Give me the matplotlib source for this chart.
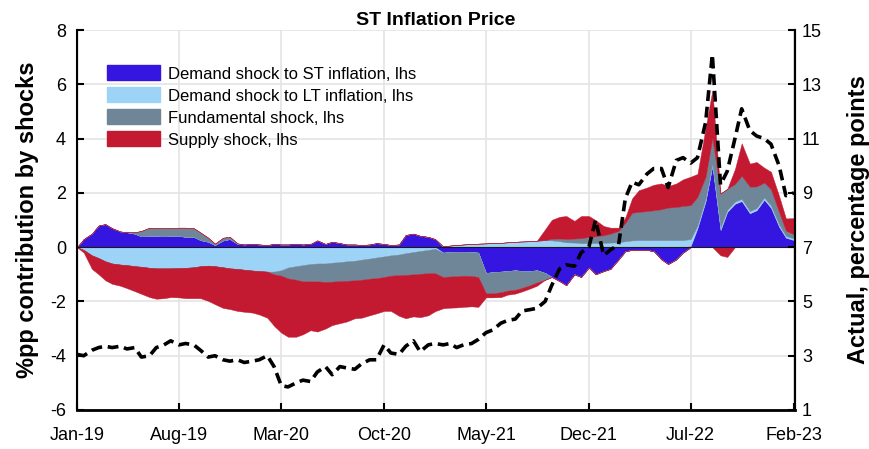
import numpy as np
import pandas as pd
import matplotlib
matplotlib.use("Agg")
import matplotlib.pyplot as plt
import matplotlib.dates as mdates
from matplotlib.patches import Patch

plt.rcParams["font.family"] = ["Liberation Sans", "DejaVu Sans"]
plt.rcParams["axes.unicode_minus"] = False

# semi-monthly observations, 1st and 15th of each month
DATES = pd.date_range("2019-01-01", "2023-02-01", freq="SMS")

# shock contributions, percentage points (lhs)
DEMAND_ST = [
    0, 0.3, 0.5, 0.8, 0.85, 0.7, 0.58, 0.55, 0.5, 0.4,
    0.42, 0.42, 0.4, 0.42, 0.42, 0.38, 0.38, 0.26, 0.2, 0.08,
    0.25, 0.3, 0.12, 0.1, 0.12, 0.1, 0.08, 0.12, 0.1, 0.1,
    0.12, 0.1, 0.12, 0.25, 0.12, 0.2, 0.15, 0.1, 0.1, 0.08,
    0.1, 0.15, 0.12, 0.08, 0.1, 0.45, 0.5, 0.42, 0.38, 0.3,
    -0.2, -0.18, -0.17, -0.17, -0.18, -0.2, -0.95, -0.92, -0.9, -0.88,
    -0.85, -0.88, -0.88, -0.85, -0.95, -1.1, -1.25, -1.4, -1.0, -1.1,
    -0.75, -1.0, -0.88, -0.8, -0.45, -0.15, -0.1, -0.1, -0.1, -0.15,
    -0.45, -0.62, -0.45, -0.2, 0.05, 0.7, 1.7, 3.0, 0.63, 1.3,
    1.6, 1.7, 1.25, 1.36, 1.75, 1.45, 0.75, 0.35, 0.26,
]
DEMAND_LT = [
    0, -0.1, -0.3, -0.4, -0.52, -0.6, -0.64, -0.66, -0.7, -0.72,
    -0.76, -0.78, -0.78, -0.78, -0.77, -0.76, -0.74, -0.7, -0.68, -0.7,
    -0.74, -0.78, -0.8, -0.83, -0.86, -0.88, -0.9, -0.9, -0.85, -0.75,
    -0.7, -0.66, -0.62, -0.6, -0.6, -0.57, -0.55, -0.52, -0.5, -0.46,
    -0.42, -0.38, -0.34, -0.3, -0.27, -0.22, -0.18, -0.14, -0.1, -0.06,
    0.03, 0.06, 0.08, 0.1, 0.12, 0.13, 0.14, 0.15, 0.16, 0.18,
    0.2, 0.21, 0.22, 0.24, 0.26, 0.25, 0.22, 0.18, 0.17, 0.15,
    0.15, 0.15, 0.16, 0.17, 0.18, 0.22, 0.25, 0.26, 0.26, 0.26,
    0.26, 0.26, 0.26, 0.26, 0.25, 0.1, 0.1, 0.08, 0.1, 0.08,
    0.08, 0.08, 0.08, 0.08, 0.08, 0.08, 0.08, 0.06, 0.06,
]
FUNDAMENTAL = [
    0, 0, 0, 0, 0, 0, 0, 0, 0.05, 0.2,
    0.3, 0.28, 0.3, 0.28, 0.3, 0.34, 0.32, 0.28, 0.15, 0.05,
    0.1, 0.08, 0.02, 0, 0, 0, 0, -0.1, -0.2, -0.4,
    -0.5, -0.6, -0.64, -0.66, -0.68, -0.7, -0.7, -0.72, -0.72, -0.74,
    -0.74, -0.76, -0.76, -0.75, -0.76, -0.8, -0.82, -0.84, -0.86, -0.9,
    -0.9, -0.9, -0.9, -0.88, -0.88, -0.9, -0.75, -0.78, -0.76, -0.72,
    -0.72, -0.62, -0.52, -0.45, -0.25, 0.06, 0.1, 0.12, 0.15, 0.18,
    0.23, 0.25, 0.28, 0.33, 0.42, 0.68, 1.02, 1.04, 1.07, 1.1,
    1.14, 1.2, 1.22, 1.26, 1.25, 1.05, 0.8, 0.95, 1.25, 0.77,
    0.65, 0.85, 0.9, 0.8, 0.55, 0.6, 0.45, 0.2, 0.15,
]
SUPPLY = [
    0, -0.1, -0.5, -0.6, -0.7, -0.75, -0.78, -0.85, -0.92, -1.0,
    -1.08, -1.12, -1.1, -1.06, -1.08, -1.12, -1.14, -1.18, -1.3, -1.4,
    -1.5, -1.5, -1.55, -1.55, -1.55, -1.6, -1.7, -1.9, -2.1, -2.15,
    -2.1, -1.95, -1.8, -1.85, -1.72, -1.6, -1.55, -1.5, -1.4, -1.4,
    -1.35, -1.3, -1.25, -1.3, -1.5, -1.6, -1.55, -1.6, -1.55, -1.4,
    -1.15, -1.15, -1.15, -1.15, -1.12, -1.1, -0.15, -0.15, -0.18, -0.15,
    -0.14, -0.13, -0.12, -0.12, 0.4, 0.7, 0.8, 0.85, 0.65, 0.82,
    0.77, 0.6, 0.34, 0.22, 0.12, 0.2, 0.53, 0.8, 0.87, 0.94,
    0.95, 0.79, 0.87, 0.98, 1.05, 0.85, 1.8, 1.75, -0.3, -0.36,
    0.55, 1.2, 0.85, 0.9, 0.55, 0.65, 0.6, 0.45, 0.6,
]

# actual ST inflation, percentage points (rhs)
ACTUAL = [
    3.05, 3.0, 3.2, 3.3, 3.35, 3.3, 3.35, 3.25, 3.3, 2.95,
    3.0, 3.3, 3.4, 3.55, 3.4, 3.45, 3.4, 3.2, 2.95, 3.0,
    2.85, 2.8, 2.85, 2.75, 2.8, 2.85, 3.0, 2.6, 1.9, 1.85,
    2.0, 2.1, 2.05, 2.4, 2.6, 2.3, 2.6, 2.55, 2.5, 2.7,
    2.85, 2.85, 3.4, 3.1, 3.05, 3.35, 3.55, 3.15, 3.4, 3.45,
    3.4, 3.45, 3.3, 3.4, 3.45, 3.6, 3.85, 3.95, 4.2, 4.3,
    4.35, 4.65, 4.7, 4.75, 5.0, 5.6, 6.2, 6.35, 6.3, 6.8,
    7.0, 8.0, 6.7, 6.9, 7.1, 8.8, 9.4, 9.3, 9.7, 9.9,
    9.9, 9.2, 10.2, 10.3, 10.1, 10.3, 11.6, 14.1, 9.3, 9.8,
    11.0, 12.1, 11.3, 11.1, 11.0, 10.8, 10.0, 8.9, 9.0,
]

SHOCKS = [
    ("Demand shock to ST inflation, lhs", DEMAND_ST, "#3515E0"),
    ("Demand shock to LT inflation, lhs", DEMAND_LT, "#9ED3F8"),
    ("Fundamental shock, lhs", FUNDAMENTAL, "#6E8697"),
    ("Supply shock, lhs", SUPPLY, "#C31A31"),
]

TICK_DATES = pd.date_range("2019-01-01", periods=8, freq="7MS")


def plot_contributions(ax):
    # positive and negative parts are stacked separately around zero
    pos_base = np.zeros(len(DATES))
    neg_base = np.zeros(len(DATES))
    for label, values, color in SHOCKS:
        v = np.asarray(values, dtype=float)
        pos = np.clip(v, 0, None)
        neg = np.clip(v, None, 0)
        ax.fill_between(DATES, pos_base, pos_base + pos, color=color,
                        lw=0.3, zorder=2)
        ax.fill_between(DATES, neg_base, neg_base + neg, color=color,
                        lw=0.3, zorder=2)
        pos_base += pos
        neg_base += neg

    ax.axhline(0, color="#1a1a1a", lw=0.8, zorder=3)


fig = plt.figure(figsize=(8.7, 4.49), dpi=100)
ax = fig.add_axes([0.0885, 0.0869, 0.8253, 0.846])
plot_contributions(ax)

ax.set_xlim(DATES[0], pd.Timestamp("2023-02-03"))
ax.set_ylim(-6, 8)
ax.set_yticks(np.arange(-6, 9, 2))
ax.set_xticks(TICK_DATES)
ax.xaxis.set_major_formatter(mdates.DateFormatter("%b-%y"))
ax.grid(color="#e4e4e4", lw=1.2)
ax.set_axisbelow(True)
ax.tick_params(direction="in", length=5, width=1.5, labelsize=13)
ax.tick_params(axis="x", pad=12)
ax.tick_params(axis="y", pad=8)
ax.spines["top"].set_visible(False)
ax.spines["left"].set_linewidth(1.5)
ax.spines["bottom"].set_linewidth(2)
ax.spines["right"].set_linewidth(1.5)
ax.set_ylabel("%pp contribution by shocks", fontsize=17, fontweight="bold",
              labelpad=8)
ax.set_title("ST Inflation Price", fontsize=14, fontweight="bold", pad=4)

ax2 = ax.twinx()
ax2.plot(DATES, ACTUAL, color="black", lw=2.6, ls=(0, (3, 1.6)), zorder=4)
ax2.set_ylim(1, 15)
ax2.set_yticks(np.arange(1, 16, 2))
ax2.tick_params(direction="in", length=5, width=1.5, labelsize=13, pad=5)
ax2.spines["top"].set_visible(False)
ax2.spines["right"].set_linewidth(1.5)
ax2.set_ylabel("Actual, percentage points", fontsize=17, fontweight="bold",
               labelpad=18)

handles = [Patch(facecolor=c, edgecolor=c, label=l) for l, _, c in SHOCKS]
ax.legend(handles=handles, loc="upper left", bbox_to_anchor=(0.042, 0.907),
          frameon=False, fontsize=12, handlelength=3.2, handleheight=1.0,
          handletextpad=0.45, labelspacing=0.35, borderaxespad=0, borderpad=0)

fig.savefig("out.png", dpi=100)
